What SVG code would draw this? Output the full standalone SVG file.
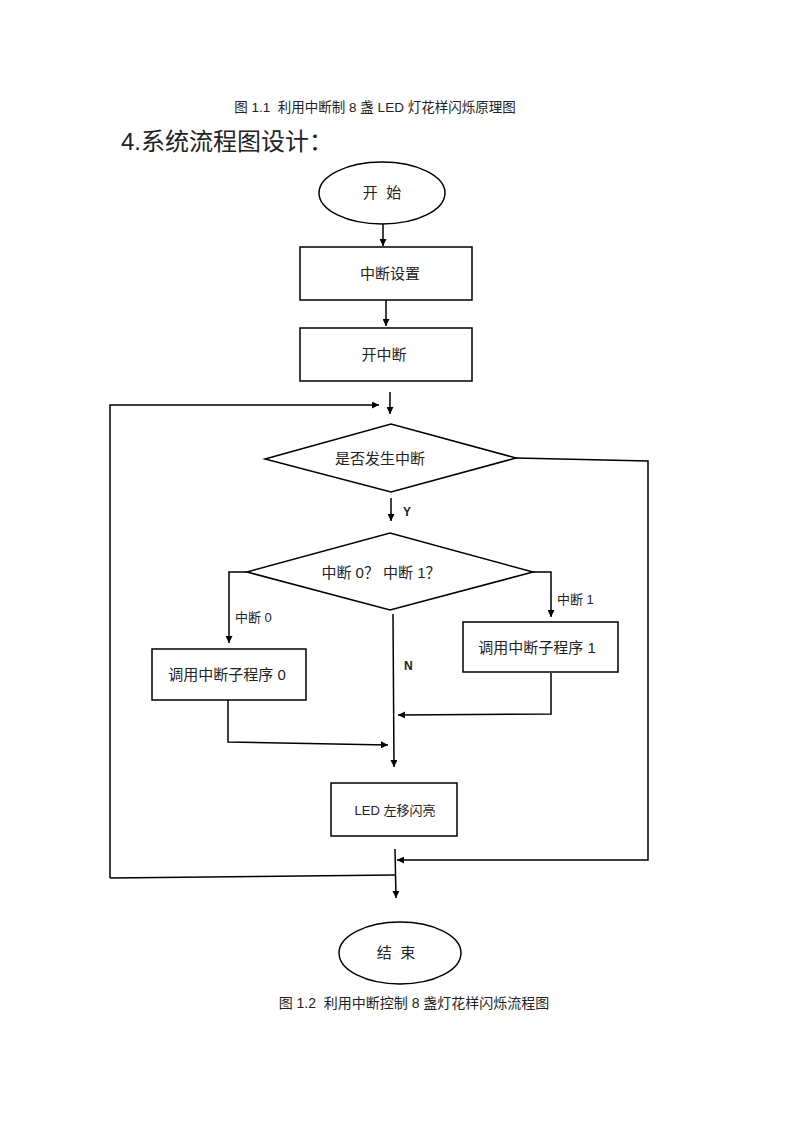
<svg xmlns="http://www.w3.org/2000/svg" width="800" height="1132" viewBox="0 0 800 1132">
<style>
text{font-family:"Liberation Sans","Noto Sans CJK SC",sans-serif;fill:#222;white-space:pre}
.s{fill:#fff;stroke:#000;stroke-width:1.5}
.c{fill:none;stroke:#000;stroke-width:1.5}
.t{font-size:15px;text-anchor:middle}
.l{font-size:13px}
.b{font-size:12px;font-weight:bold}
</style>
<defs>
<marker id="a" viewBox="0 0 10 10" refX="10" refY="5" markerWidth="7" markerHeight="7" markerUnits="userSpaceOnUse" orient="auto">
<path d="M0,0L10,5L0,10z" fill="#000"/>
</marker>
</defs>
<rect width="800" height="1132" fill="#fff"/>
<text x="375" y="112" xml:space="preserve" style="font-size:13.5px;text-anchor:middle">图 1.1  利用中断制 8 盏 LED 灯花样闪烁原理图</text>
<text x="121" y="150" style="font-size:24px">4.系统流程图设计：</text>

<g id="connectors">
<path class="c" marker-end="url(#a)" d="M383,224L383,246"/>
<path class="c" marker-end="url(#a)" d="M386,300L386,326"/>
<path class="c" marker-end="url(#a)" d="M390,392L390,414"/>
<path class="c" marker-end="url(#a)" d="M110,878L110,405L379,405"/>
<path class="c" marker-end="url(#a)" d="M516,458L648,461L648,860L397,860"/>
<path class="c" marker-end="url(#a)" d="M391,498L391,521"/>
<path class="c" marker-end="url(#a)" d="M247,572L229,572L229,643"/>
<path class="c" marker-end="url(#a)" d="M533,572L551,572L551,617"/>
<path class="c" marker-end="url(#a)" d="M393,614L394,767"/>
<path class="c" marker-end="url(#a)" d="M551,673L551,714L398,715"/>
<path class="c" marker-end="url(#a)" d="M228,700L228,742L388,745"/>
<path class="c" marker-end="url(#a)" d="M395,849L396,898"/>
<path class="c" d="M110,878L395,875"/>
<text x="403" y="516" class="b">Y</text>
<text x="404" y="670" class="b">N</text>
<text x="235" y="622" class="l">中断 0</text>
<text x="557" y="604" class="l">中断 1</text>
</g>

<g id="start"><ellipse class="s" cx="382" cy="193" rx="63" ry="31"/><text x="382" y="198" class="t" xml:space="preserve">开  始</text></g>
<g id="setup"><rect class="s" x="300" y="247" width="172" height="53"/><text x="390" y="279" class="t">中断设置</text></g>
<g id="enable"><rect class="s" x="300" y="328" width="172" height="53"/><text x="384" y="360" class="t">开中断</text></g>
<g id="check"><polygon class="s" points="265,459 391,424 516,458 391,492"/><text x="380" y="464" class="t">是否发生中断</text></g>
<g id="which"><polygon class="s" points="247,572 390,533 533,572 390,610"/><text x="381" y="578" class="t">中断 0？ 中断 1？</text></g>
<g id="sub0"><rect class="s" x="152" y="649" width="154" height="51"/><text x="227" y="680" class="t">调用中断子程序 0</text></g>
<g id="sub1"><rect class="s" x="463" y="622" width="155" height="50"/><text x="537" y="653" class="t">调用中断子程序 1</text></g>
<g id="led"><rect class="s" x="331" y="783" width="126" height="53"/><text x="395" y="815" style="font-size:13px;text-anchor:middle">LED 左移闪亮</text></g>
<g id="end"><ellipse class="s" cx="400" cy="953" rx="61" ry="31"/><text x="396" y="958" class="t" xml:space="preserve">结  束</text></g>

<text x="414" y="1008" xml:space="preserve" style="font-size:14px;text-anchor:middle">图 1.2  利用中断控制 8 盏灯花样闪烁流程图</text>
</svg>
